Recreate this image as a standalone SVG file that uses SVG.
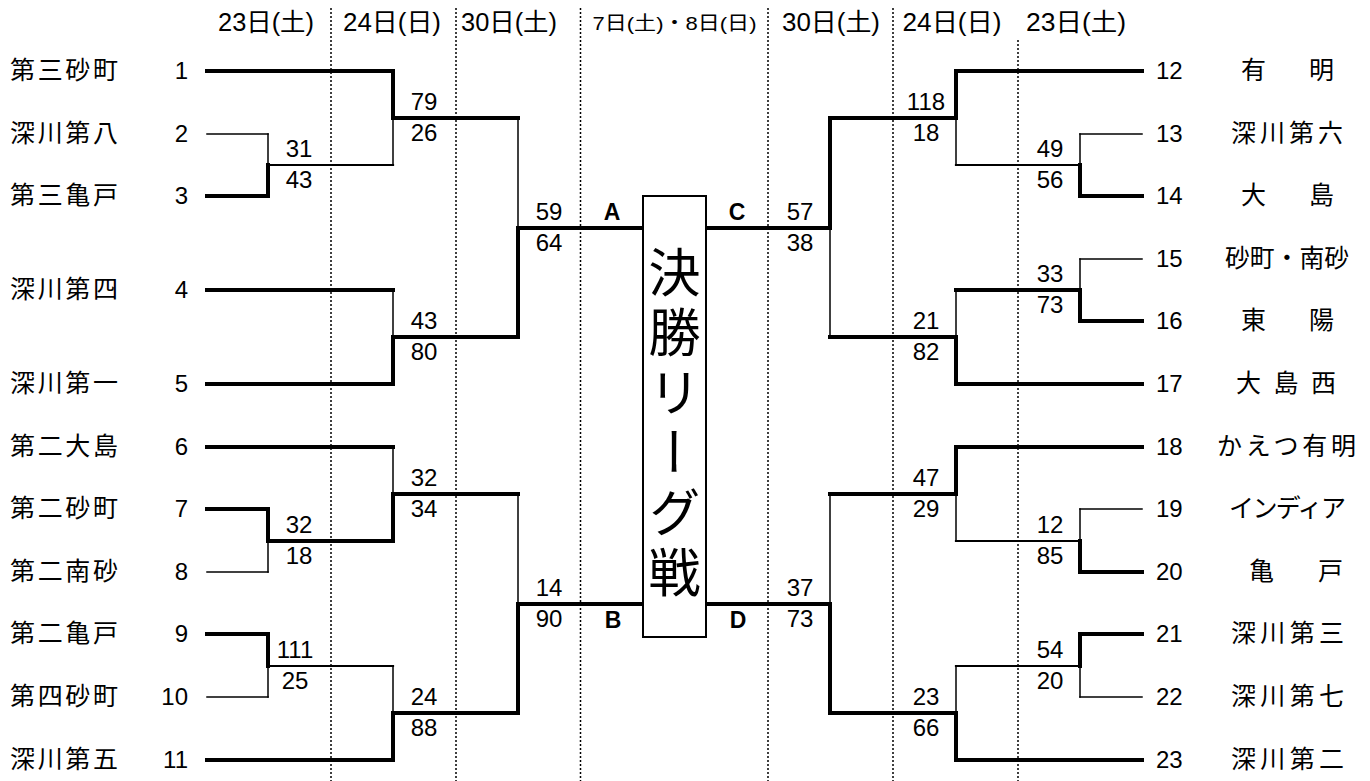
<svg xmlns="http://www.w3.org/2000/svg" width="1370" height="781" viewBox="0 0 1370 781">
<style>
text{font-family:"Liberation Sans","Noto Sans CJK JP",sans-serif;fill:#000}
.nm{font-size:25px;font-family:"Noto Sans CJK JP","Liberation Sans",sans-serif}
.no{font-size:24px}
.sc{font-size:24px;text-anchor:middle}
.hd{font-size:25px;text-anchor:middle}
.lb{font-size:23px;font-weight:bold;text-anchor:middle}
.dot{stroke:#000;stroke-width:1.5;stroke-dasharray:2 2;fill:none}
.tk{stroke:#000;stroke-width:4;stroke-linecap:square;fill:none}
.md{stroke:#000;stroke-width:2.2;stroke-linecap:square;fill:none}
.tn{stroke:#000;stroke-width:1.5;stroke-linecap:square;fill:none}
</style>
<rect width="1370" height="781" fill="#fff"/>
<g id="grid">
<line class="dot" x1="331" y1="8" x2="331" y2="781"/>
<line class="dot" x1="456" y1="8" x2="456" y2="781"/>
<line class="dot" x1="580.5" y1="8" x2="580.5" y2="781"/>
<line class="dot" x1="768" y1="8" x2="768" y2="781"/>
<line class="dot" x1="893" y1="8" x2="893" y2="781"/>
<line class="dot" x1="1018" y1="40" x2="1018" y2="781"/>
</g>
<g id="headers">
<text class="hd" x="266" y="31" textLength="96" lengthAdjust="spacingAndGlyphs">23日(土)</text>
<text class="hd" x="392" y="31" textLength="98" lengthAdjust="spacingAndGlyphs">24日(日)</text>
<text class="hd" x="509" y="31" textLength="96" lengthAdjust="spacingAndGlyphs">30日(土)</text>
<text class="hd" x="674.5" y="30" style="font-size:19px" textLength="164" lengthAdjust="spacingAndGlyphs">7日(土)・8日(日)</text>
<text class="hd" x="831" y="31" textLength="98" lengthAdjust="spacingAndGlyphs">30日(土)</text>
<text class="hd" x="952" y="31" textLength="99" lengthAdjust="spacingAndGlyphs">24日(日)</text>
<text class="hd" x="1076" y="31" textLength="100" lengthAdjust="spacingAndGlyphs">23日(土)</text>
</g>
<g id="connectors">
<line class="tk" x1="207" y1="71" x2="393" y2="71"/>
<line class="tn" x1="207" y1="134" x2="268" y2="134"/>
<line class="tk" x1="207" y1="196" x2="268" y2="196"/>
<line class="tk" x1="207" y1="290" x2="393" y2="290"/>
<line class="tk" x1="207" y1="384" x2="393" y2="384"/>
<line class="tk" x1="207" y1="447" x2="393" y2="447"/>
<line class="tk" x1="207" y1="509" x2="268" y2="509"/>
<line class="tn" x1="207" y1="572" x2="268" y2="572"/>
<line class="tk" x1="207" y1="634" x2="268" y2="634"/>
<line class="tn" x1="207" y1="697" x2="268" y2="697"/>
<line class="tk" x1="207" y1="760" x2="393" y2="760"/>
<line class="tn" x1="268" y1="134" x2="268" y2="165"/>
<line class="tk" x1="268" y1="165" x2="268" y2="196"/>
<line class="md" x1="268" y1="165" x2="393" y2="165"/>
<line class="tk" x1="268" y1="509" x2="268" y2="541"/>
<line class="tn" x1="268" y1="541" x2="268" y2="572"/>
<line class="tk" x1="268" y1="541" x2="393" y2="541"/>
<line class="tk" x1="268" y1="634" x2="268" y2="666"/>
<line class="tn" x1="268" y1="666" x2="268" y2="697"/>
<line class="md" x1="268" y1="666" x2="393" y2="666"/>
<line class="tk" x1="393" y1="71" x2="393" y2="118"/>
<line class="tn" x1="393" y1="118" x2="393" y2="165"/>
<line class="tk" x1="393" y1="118" x2="518" y2="118"/>
<line class="tn" x1="393" y1="290" x2="393" y2="337"/>
<line class="tk" x1="393" y1="337" x2="393" y2="384"/>
<line class="tk" x1="393" y1="337" x2="518" y2="337"/>
<line class="tn" x1="393" y1="447" x2="393" y2="494"/>
<line class="tk" x1="393" y1="494" x2="393" y2="541"/>
<line class="tk" x1="393" y1="494" x2="518" y2="494"/>
<line class="tn" x1="393" y1="666" x2="393" y2="713"/>
<line class="tk" x1="393" y1="713" x2="393" y2="760"/>
<line class="tk" x1="393" y1="713" x2="518" y2="713"/>
<line class="tn" x1="518" y1="118" x2="518" y2="228"/>
<line class="tk" x1="518" y1="228" x2="518" y2="337"/>
<line class="tk" x1="518" y1="228" x2="643" y2="228"/>
<line class="tn" x1="518" y1="494" x2="518" y2="604"/>
<line class="tk" x1="518" y1="604" x2="518" y2="713"/>
<line class="tk" x1="518" y1="604" x2="643" y2="604"/>
<line class="tk" x1="706" y1="228" x2="830" y2="228"/>
<line class="tk" x1="830" y1="118" x2="830" y2="228"/>
<line class="tn" x1="830" y1="228" x2="830" y2="337"/>
<line class="tk" x1="706" y1="604" x2="830" y2="604"/>
<line class="tn" x1="830" y1="494" x2="830" y2="604"/>
<line class="tk" x1="830" y1="604" x2="830" y2="713"/>
<line class="tk" x1="830" y1="118" x2="956" y2="118"/>
<line class="tk" x1="956" y1="71" x2="956" y2="118"/>
<line class="tn" x1="956" y1="118" x2="956" y2="165"/>
<line class="tk" x1="830" y1="337" x2="956" y2="337"/>
<line class="tn" x1="956" y1="290" x2="956" y2="337"/>
<line class="tk" x1="956" y1="337" x2="956" y2="384"/>
<line class="tk" x1="830" y1="494" x2="956" y2="494"/>
<line class="tk" x1="956" y1="447" x2="956" y2="494"/>
<line class="tn" x1="956" y1="494" x2="956" y2="541"/>
<line class="tk" x1="830" y1="713" x2="956" y2="713"/>
<line class="tn" x1="956" y1="666" x2="956" y2="713"/>
<line class="tk" x1="956" y1="713" x2="956" y2="760"/>
<line class="md" x1="956" y1="165" x2="1080" y2="165"/>
<line class="tn" x1="1080" y1="134" x2="1080" y2="165"/>
<line class="tk" x1="1080" y1="165" x2="1080" y2="196"/>
<line class="tk" x1="956" y1="290" x2="1080" y2="290"/>
<line class="tn" x1="1080" y1="259" x2="1080" y2="290"/>
<line class="tk" x1="1080" y1="290" x2="1080" y2="321"/>
<line class="md" x1="956" y1="541" x2="1080" y2="541"/>
<line class="tn" x1="1080" y1="509" x2="1080" y2="541"/>
<line class="tk" x1="1080" y1="541" x2="1080" y2="572"/>
<line class="md" x1="956" y1="666" x2="1080" y2="666"/>
<line class="tk" x1="1080" y1="634" x2="1080" y2="666"/>
<line class="tn" x1="1080" y1="666" x2="1080" y2="697"/>
<line class="tk" x1="956" y1="71" x2="1142" y2="71"/>
<line class="tn" x1="1080" y1="134" x2="1142" y2="134"/>
<line class="tk" x1="1080" y1="196" x2="1142" y2="196"/>
<line class="tn" x1="1080" y1="259" x2="1142" y2="259"/>
<line class="tk" x1="1080" y1="321" x2="1142" y2="321"/>
<line class="tk" x1="956" y1="384" x2="1142" y2="384"/>
<line class="tk" x1="956" y1="447" x2="1142" y2="447"/>
<line class="tn" x1="1080" y1="509" x2="1142" y2="509"/>
<line class="tk" x1="1080" y1="572" x2="1142" y2="572"/>
<line class="tk" x1="1080" y1="634" x2="1142" y2="634"/>
<line class="tn" x1="1080" y1="697" x2="1142" y2="697"/>
<line class="tk" x1="956" y1="760" x2="1142" y2="760"/>
</g>
<g id="scores">
<text class="sc" x="299" y="157">31</text><text class="sc" x="299" y="188">43</text>
<text class="sc" x="299" y="533">32</text><text class="sc" x="299" y="564">18</text>
<text class="sc" x="295" y="658">111</text><text class="sc" x="295" y="689">25</text>
<text class="sc" x="424" y="110">79</text><text class="sc" x="424" y="141">26</text>
<text class="sc" x="424" y="329">43</text><text class="sc" x="424" y="360">80</text>
<text class="sc" x="424" y="486">32</text><text class="sc" x="424" y="517">34</text>
<text class="sc" x="424" y="705">24</text><text class="sc" x="424" y="736">88</text>
<text class="sc" x="549" y="220">59</text><text class="sc" x="549" y="251">64</text>
<text class="sc" x="549" y="596">14</text><text class="sc" x="549" y="627">90</text>
<text class="sc" x="800" y="220">57</text><text class="sc" x="800" y="251">38</text>
<text class="sc" x="800" y="596">37</text><text class="sc" x="800" y="627">73</text>
<text class="sc" x="926" y="110">118</text><text class="sc" x="926" y="141">18</text>
<text class="sc" x="926" y="329">21</text><text class="sc" x="926" y="360">82</text>
<text class="sc" x="926" y="486">47</text><text class="sc" x="926" y="517">29</text>
<text class="sc" x="926" y="705">23</text><text class="sc" x="926" y="736">66</text>
<text class="sc" x="1050" y="157">49</text><text class="sc" x="1050" y="188">56</text>
<text class="sc" x="1050" y="282">33</text><text class="sc" x="1050" y="313">73</text>
<text class="sc" x="1050" y="533">12</text><text class="sc" x="1050" y="564">85</text>
<text class="sc" x="1050" y="658">54</text><text class="sc" x="1050" y="689">20</text>
<text class="lb" x="612" y="220">A</text>
<text class="lb" x="613" y="628">B</text>
<text class="lb" x="737" y="220">C</text>
<text class="lb" x="738" y="628">D</text>
</g>
<g id="final">
<rect x="643" y="196" width="63" height="441" fill="#fff" stroke="#000" stroke-width="2"/>
<text x="674.5" y="246" style="font-size:52px;writing-mode:vertical-rl;letter-spacing:8px;font-family:'Noto Sans CJK JP',sans-serif">決勝リーグ戦</text>
</g>
<g id="team-1"><text class="nm" x="10" y="79" textLength="108" lengthAdjust="spacing">第三砂町</text><text class="no" x="188" y="79" text-anchor="end">1</text></g>
<g id="team-2"><text class="nm" x="10" y="142" textLength="108" lengthAdjust="spacing">深川第八</text><text class="no" x="188" y="142" text-anchor="end">2</text></g>
<g id="team-3"><text class="nm" x="10" y="204" textLength="108" lengthAdjust="spacing">第三亀戸</text><text class="no" x="188" y="204" text-anchor="end">3</text></g>
<g id="team-4"><text class="nm" x="10" y="298" textLength="108" lengthAdjust="spacing">深川第四</text><text class="no" x="188" y="298" text-anchor="end">4</text></g>
<g id="team-5"><text class="nm" x="10" y="392" textLength="108" lengthAdjust="spacing">深川第一</text><text class="no" x="188" y="392" text-anchor="end">5</text></g>
<g id="team-6"><text class="nm" x="10" y="455" textLength="108" lengthAdjust="spacing">第二大島</text><text class="no" x="188" y="455" text-anchor="end">6</text></g>
<g id="team-7"><text class="nm" x="10" y="517" textLength="108" lengthAdjust="spacing">第二砂町</text><text class="no" x="188" y="517" text-anchor="end">7</text></g>
<g id="team-8"><text class="nm" x="10" y="580" textLength="108" lengthAdjust="spacing">第二南砂</text><text class="no" x="188" y="580" text-anchor="end">8</text></g>
<g id="team-9"><text class="nm" x="10" y="642" textLength="108" lengthAdjust="spacing">第二亀戸</text><text class="no" x="188" y="642" text-anchor="end">9</text></g>
<g id="team-10"><text class="nm" x="10" y="705" textLength="108" lengthAdjust="spacing">第四砂町</text><text class="no" x="188" y="705" text-anchor="end">10</text></g>
<g id="team-11"><text class="nm" x="10" y="768" textLength="108" lengthAdjust="spacing">深川第五</text><text class="no" x="188" y="768" text-anchor="end">11</text></g>
<g id="team-12"><text class="no" x="1156" y="79">12</text><text class="nm" x="1241" y="79" textLength="93" lengthAdjust="spacing">有　明</text></g>
<g id="team-13"><text class="no" x="1156" y="142">13</text><text class="nm" x="1231" y="142" textLength="112" lengthAdjust="spacing">深川第六</text></g>
<g id="team-14"><text class="no" x="1156" y="204">14</text><text class="nm" x="1241" y="204" textLength="93" lengthAdjust="spacing">大　島</text></g>
<g id="team-15"><text class="no" x="1156" y="267">15</text><text class="nm" x="1225" y="267" textLength="124" lengthAdjust="spacingAndGlyphs">砂町・南砂</text></g>
<g id="team-16"><text class="no" x="1156" y="329">16</text><text class="nm" x="1241" y="329" textLength="93" lengthAdjust="spacing">東　陽</text></g>
<g id="team-17"><text class="no" x="1156" y="392">17</text><text class="nm" x="1236" y="392" textLength="100" lengthAdjust="spacing">大 島 西</text></g>
<g id="team-18"><text class="no" x="1156" y="455">18</text><text class="nm" x="1217" y="455" textLength="139" lengthAdjust="spacing">かえつ有明</text></g>
<g id="team-19"><text class="no" x="1156" y="517">19</text><text class="nm" x="1229" y="517" textLength="117" lengthAdjust="spacing">インディア</text></g>
<g id="team-20"><text class="no" x="1156" y="580">20</text><text class="nm" x="1249" y="580" textLength="94" lengthAdjust="spacing">亀　戸</text></g>
<g id="team-21"><text class="no" x="1156" y="642">21</text><text class="nm" x="1231" y="642" textLength="113" lengthAdjust="spacing">深川第三</text></g>
<g id="team-22"><text class="no" x="1156" y="705">22</text><text class="nm" x="1231" y="705" textLength="113" lengthAdjust="spacing">深川第七</text></g>
<g id="team-23"><text class="no" x="1156" y="768">23</text><text class="nm" x="1231" y="768" textLength="113" lengthAdjust="spacing">深川第二</text></g>
</svg>
